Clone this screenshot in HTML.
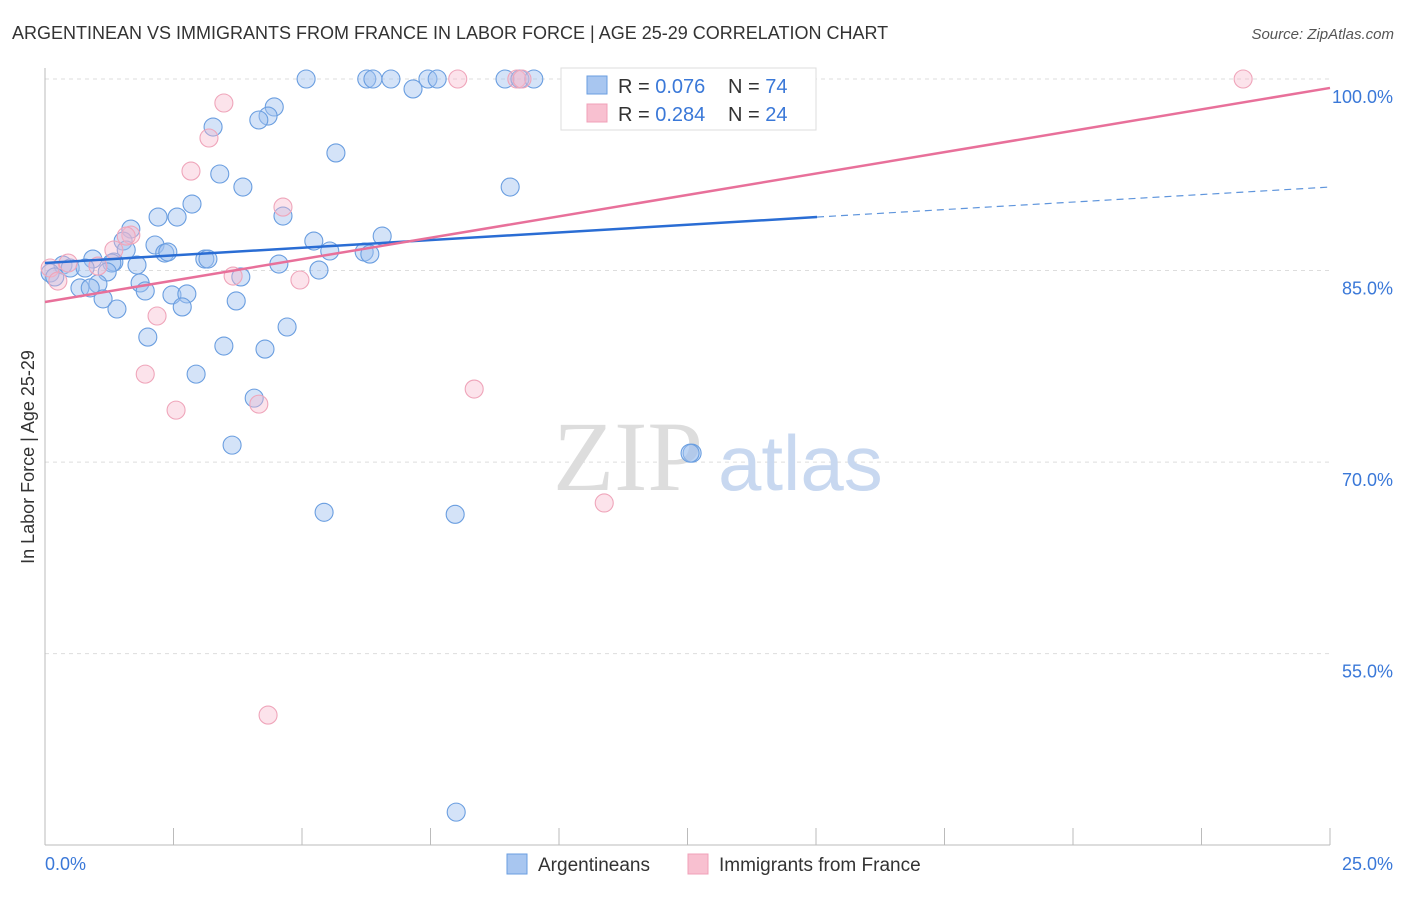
<!DOCTYPE html>
<html><head><meta charset="utf-8"><style>
body{margin:0;background:#fff;font-family:"Liberation Sans",sans-serif;}
</style></head><body>
<svg width="1406" height="892" xmlns="http://www.w3.org/2000/svg" style="font-family:'Liberation Sans',sans-serif">
<text x="12" y="39" font-size="18" fill="#333">ARGENTINEAN VS IMMIGRANTS FROM FRANCE IN LABOR FORCE | AGE 25-29 CORRELATION CHART</text>
<text x="1394" y="39" font-size="15" fill="#555" text-anchor="end" font-style="italic">Source: ZipAtlas.com</text>
<text x="34" y="457" font-size="18" fill="#333" text-anchor="middle" transform="rotate(-90 34 457)">In Labor Force | Age 25-29</text>
<g id="grid"></g>
<text x="553" y="490" font-size="100" fill="#ddd" font-family="Liberation Serif,serif">ZIP</text>
<text x="718" y="490" font-size="78" fill="#c8d8f0">atlas</text>
<line x1="45" y1="68" x2="45" y2="845" stroke="#bbb"/>
<line x1="45" y1="845" x2="1330" y2="845" stroke="#bbb"/>
<g id="ticks"></g>
<g id="pts"></g>
<g id="lines"></g>
<text x="45" y="870" font-size="18" fill="#3a78d8">0.0%</text>
<text x="1393" y="870" font-size="18" fill="#3a78d8" text-anchor="end">25.0%</text>
<g>
<rect x="561" y="68" width="255" height="62" fill="#fff" stroke="#ddd"/>
<rect x="587" y="76" width="20" height="18" fill="#a8c6f0" stroke="#6a9ee0"/>
<rect x="587" y="104" width="20" height="18" fill="#f8c0d0" stroke="#f0a0b8"/>
<text x="618" y="93" font-size="20" fill="#333">R = <tspan fill="#3a78d8">0.076</tspan></text>
<text x="728" y="93" font-size="20" fill="#333">N = <tspan fill="#3a78d8">74</tspan></text>
<text x="618" y="121" font-size="20" fill="#333">R = <tspan fill="#3a78d8">0.284</tspan></text>
<text x="728" y="121" font-size="20" fill="#333">N = <tspan fill="#3a78d8">24</tspan></text>
</g>
<rect x="507" y="854" width="20" height="20" fill="#a8c6f0" stroke="#6a9ee0"/>
<text x="538" y="871" font-size="19" fill="#333">Argentineans</text>
<rect x="688" y="854" width="20" height="20" fill="#f8c0d0" stroke="#f0a0b8"/>
<text x="719" y="871" font-size="19" fill="#333">Immigrants from France</text>
</svg>
<script>
const yTicks=[100,85,70,55];
const yTickLabels=["100.0%","85.0%","70.0%","55.0%"];
const xTicks=[0,2.5,5,7.5,10,12.5,15,17.5,20,22.5,25];
const blueX=[5.08,6.26,6.38,6.73,7.45,7.63,8.95,9.24,9.51,10.37,7.16,4.46,4.34,4.16,3.27,5.66,3.40,3.85,9.05,2.86,2.20,2.57,1.67,4.63,1.52,2.14,5.23,6.56,1.58,2.33,2.39,5.54,6.21,6.32,3.11,3.17,5.33,0.93,1.34,1.30,1.79,4.55,0.35,0.49,0.78,1.21,3.81,0.10,0.19,1.03,1.85,0.68,0.88,1.95,2.47,2.76,1.13,3.72,2.67,1.40,4.71,2.00,3.48,4.28,2.94,4.07,3.64,12.59,12.55,5.43,7.98,8.00];
const blueY=[100,100,100,100,100,100,100,100,100,100,99.22,97.81,97.10,96.79,96.24,94.21,92.56,91.54,91.54,90.21,89.19,89.19,88.25,89.27,87.31,87.00,87.31,87.70,86.61,86.37,86.45,86.53,86.45,86.29,85.90,85.90,85.04,85.90,85.67,85.59,85.43,85.51,85.43,85.20,85.20,84.89,84.50,84.81,84.50,83.95,84.03,83.64,83.64,83.40,83.09,83.17,82.78,82.62,82.15,81.99,80.58,79.79,79.09,78.85,76.89,75.01,71.33,70.7,70.7,66.07,65.91,42.59];
const pinkX=[8.03,9.18,9.28,23.31,3.48,3.19,2.84,4.63,1.67,1.34,0.45,0.10,0.25,3.66,4.96,2.18,1.95,2.55,4.16,8.35,4.34,10.88,1.03,1.58];
const pinkY=[100,100,100,100,98.12,95.38,92.79,89.97,87.78,86.61,85.59,85.20,84.18,84.57,84.26,81.44,76.89,74.07,74.54,75.72,50.19,66.80,85.35,87.70];
const blueTrend=[85.59,89.19,91.54]; // at x=0, 15.02, 25
const pinkTrend=[82.54,99.30]; // at x=0, 25
const NS="http://www.w3.org/2000/svg";
const sx=v=>45+v/25*1285;
const sy=v=>79+(100-v)*12.77;
function mk(tag,attrs,parent){const e=document.createElementNS(NS,tag);for(const k in attrs)e.setAttribute(k,attrs[k]);document.getElementById(parent).appendChild(e);return e;}
yTicks.forEach((t,i)=>{
 const g=mk('line',{x1:45,x2:1330,y1:sy(t),y2:sy(t),stroke:'#ddd','stroke-dasharray':'4,4'},'grid');
 
 
 const l=mk('text',{x:1393,y:sy(t)+24,'font-size':18,fill:'#3a78d8','text-anchor':'end'},'grid');
 l.textContent=yTickLabels[i];
 
 
});
xTicks.forEach(t=>{
 if(t===0)return;
 const l=mk('line',{x1:sx(t),x2:sx(t),y1:828,y2:845,stroke:'#bbb'},'ticks');
 
 
});
blueX.forEach((x,i)=>{
 const c=mk('circle',{cx:sx(x),cy:sy(blueY[i]),r:9,fill:'rgba(160,194,240,0.45)',stroke:'#6a9ee0','stroke-width':1.1},'pts');
 
 
});
pinkX.forEach((x,i)=>{
 const c=mk('circle',{cx:sx(x),cy:sy(pinkY[i]),r:9,fill:'rgba(248,185,205,0.4)',stroke:'#efa5ba','stroke-width':1.1},'pts');
 
 
});
let b1=mk('line',{x1:sx(0),y1:sy(blueTrend[0]),x2:sx(15.02),y2:sy(blueTrend[1]),stroke:'#2a6dd4','stroke-width':2.5},'lines');


let b2=mk('line',{x1:sx(15.02),y1:sy(blueTrend[1]),x2:sx(25),y2:sy(blueTrend[2]),stroke:'#5f95dc','stroke-width':1.2,'stroke-dasharray':'7,5'},'lines');


let p1=mk('line',{x1:sx(0),y1:sy(pinkTrend[0]),x2:sx(25),y2:sy(pinkTrend[1]),stroke:'#e8709a','stroke-width':2.5},'lines');


</script>
</body></html>
